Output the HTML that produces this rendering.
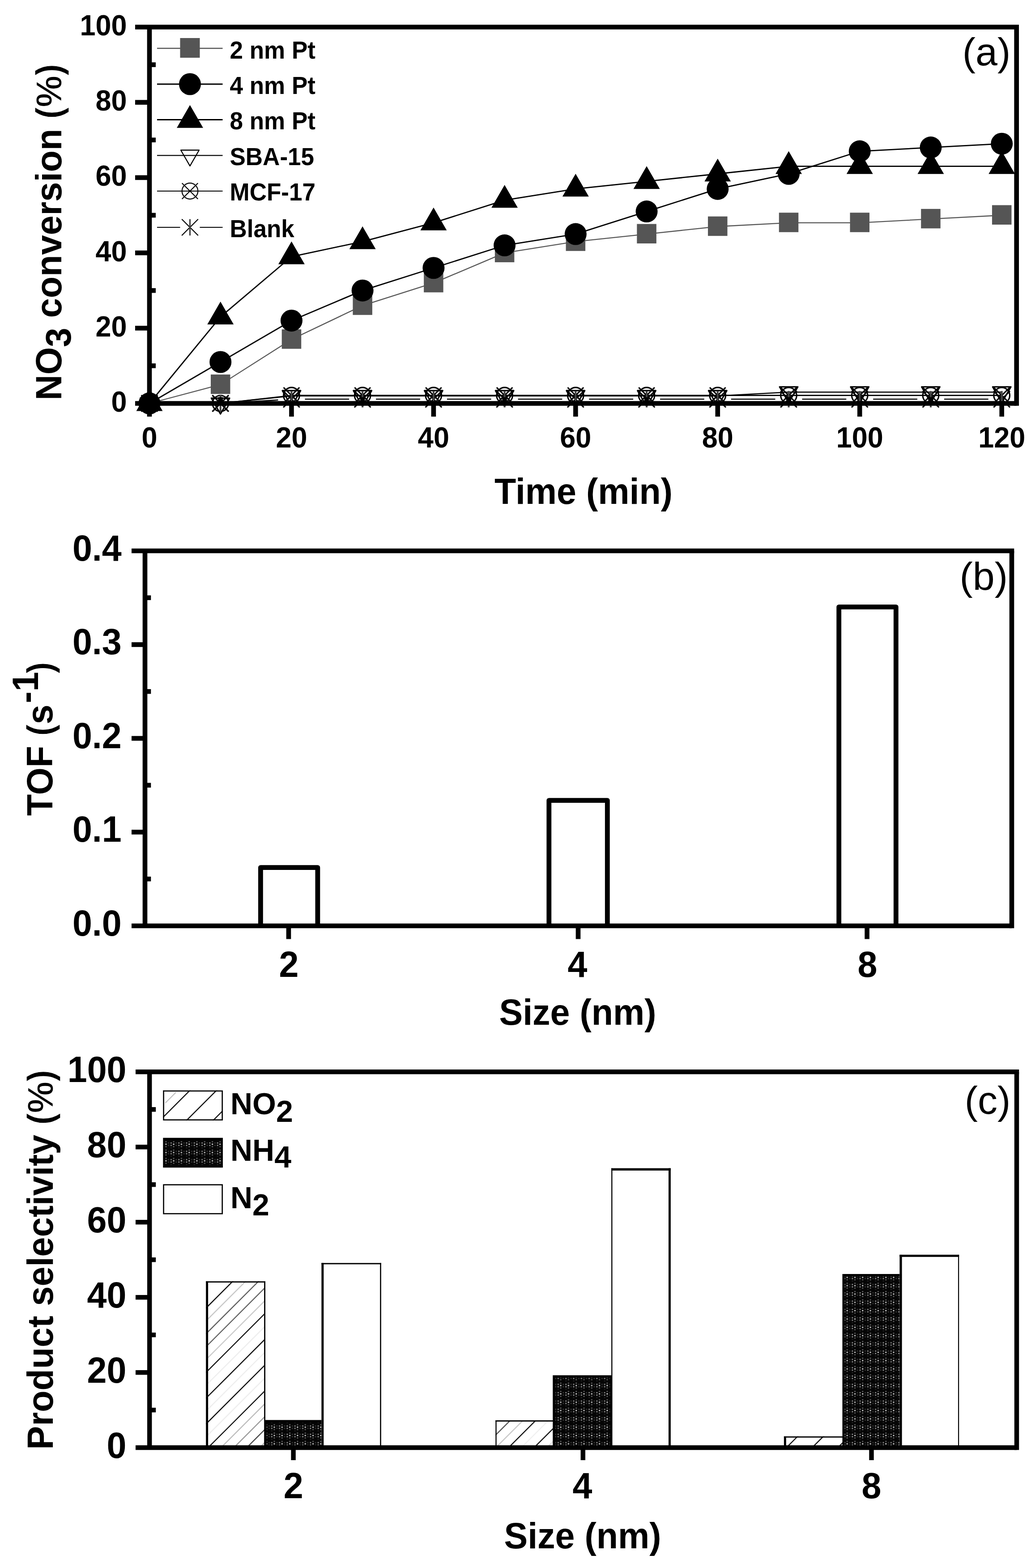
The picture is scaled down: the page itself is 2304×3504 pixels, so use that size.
<!DOCTYPE html>
<html lang="en">
<head>
<meta charset="utf-8">
<title>Figure: nitrate conversion, TOF and product selectivity</title>
<style>
html,body{margin:0;padding:0;background:#fff;}
body{width:2304px;height:3504px;overflow:hidden;}
svg{display:block;}
text{fill:#000;}
</style>
</head>
<body>
<svg width="2304" height="3504" viewBox="0 0 2304 3504">
<rect width="2304" height="3504" fill="#fff"/>
<defs>
<pattern id="dots" width="17.3" height="18.6" patternUnits="userSpaceOnUse"><rect width="17.3" height="18.6" fill="#050505"/><rect x="0.5" y="4.7" width="2.7" height="2.7" fill="#999"/><rect x="0.5" y="10.1" width="2.7" height="2.7" fill="#999"/><rect x="0.5" y="15.5" width="2.7" height="2.7" fill="#222"/><rect x="6.2" y="2" width="2.7" height="2.7" fill="#666"/><rect x="6.2" y="7.4" width="2.7" height="2.7" fill="#f0f0f0"/><rect x="6.2" y="12.8" width="2.7" height="2.7" fill="#666"/><rect x="12" y="4.7" width="2.7" height="2.7" fill="#3a3a3a"/><rect x="12" y="10.1" width="2.7" height="2.7" fill="#3a3a3a"/></pattern>
</defs>
<g id="panel-a">
<polyline points="334.00,901.50 492.73,859.45 651.45,758.53 810.17,682.84 968.90,632.38 1127.62,565.10 1286.35,539.87 1445.08,523.05 1603.80,506.23 1762.52,497.82 1921.25,497.82 2079.97,489.41 2238.70,481.00" fill="none" stroke="#555555" stroke-width="2.3" stroke-linejoin="round"/>
<rect x="470.98" y="836.90" width="43.50" height="43.50" fill="#555555" stroke="none" stroke-width="0" />
<rect x="629.70" y="735.98" width="43.50" height="43.50" fill="#555555" stroke="none" stroke-width="0" />
<rect x="788.42" y="660.29" width="43.50" height="43.50" fill="#555555" stroke="none" stroke-width="0" />
<rect x="947.15" y="609.83" width="43.50" height="43.50" fill="#555555" stroke="none" stroke-width="0" />
<rect x="1105.88" y="542.55" width="43.50" height="43.50" fill="#555555" stroke="none" stroke-width="0" />
<rect x="1264.60" y="517.32" width="43.50" height="43.50" fill="#555555" stroke="none" stroke-width="0" />
<rect x="1423.33" y="500.50" width="43.50" height="43.50" fill="#555555" stroke="none" stroke-width="0" />
<rect x="1582.05" y="483.68" width="43.50" height="43.50" fill="#555555" stroke="none" stroke-width="0" />
<rect x="1740.77" y="475.27" width="43.50" height="43.50" fill="#555555" stroke="none" stroke-width="0" />
<rect x="1899.50" y="475.27" width="43.50" height="43.50" fill="#555555" stroke="none" stroke-width="0" />
<rect x="2058.22" y="466.86" width="43.50" height="43.50" fill="#555555" stroke="none" stroke-width="0" />
<rect x="2216.95" y="458.45" width="43.50" height="43.50" fill="#555555" stroke="none" stroke-width="0" />
<polyline points="334.00,901.50 492.73,808.99 651.45,716.48 810.17,649.20 968.90,598.74 1127.62,548.28 1286.35,523.05 1445.08,472.59 1603.80,422.13 1762.52,388.49 1921.25,338.03 2079.97,329.62 2238.70,321.21" fill="none" stroke="#000" stroke-width="2.8" stroke-linejoin="round"/>
<circle cx="334.00" cy="901.50" r="24.5" fill="#000"/>
<circle cx="492.73" cy="808.99" r="24.5" fill="#000"/>
<circle cx="651.45" cy="716.48" r="24.5" fill="#000"/>
<circle cx="810.17" cy="649.20" r="24.5" fill="#000"/>
<circle cx="968.90" cy="598.74" r="24.5" fill="#000"/>
<circle cx="1127.62" cy="548.28" r="24.5" fill="#000"/>
<circle cx="1286.35" cy="523.05" r="24.5" fill="#000"/>
<circle cx="1445.08" cy="472.59" r="24.5" fill="#000"/>
<circle cx="1603.80" cy="422.13" r="24.5" fill="#000"/>
<circle cx="1762.52" cy="388.49" r="24.5" fill="#000"/>
<circle cx="1921.25" cy="338.03" r="24.5" fill="#000"/>
<circle cx="2079.97" cy="329.62" r="24.5" fill="#000"/>
<circle cx="2238.70" cy="321.21" r="24.5" fill="#000"/>
<polyline points="334.00,901.50 492.73,708.07 651.45,573.51 810.17,539.87 968.90,497.82 1127.62,447.36 1286.35,422.13 1445.08,405.31 1603.80,388.49 1762.52,371.67 1921.25,371.67 2079.97,371.67 2238.70,371.67" fill="none" stroke="#000" stroke-width="2.8" stroke-linejoin="round"/>
<polygon points="334.00,867.50 363.44,918.50 304.56,918.50" fill="#000"/>
<polygon points="492.73,674.07 522.17,725.07 463.28,725.07" fill="#000"/>
<polygon points="651.45,539.51 680.89,590.51 622.01,590.51" fill="#000"/>
<polygon points="810.17,505.87 839.62,556.87 780.73,556.87" fill="#000"/>
<polygon points="968.90,463.82 998.34,514.82 939.46,514.82" fill="#000"/>
<polygon points="1127.62,413.36 1157.07,464.36 1098.18,464.36" fill="#000"/>
<polygon points="1286.35,388.13 1315.79,439.13 1256.91,439.13" fill="#000"/>
<polygon points="1445.08,371.31 1474.52,422.31 1415.63,422.31" fill="#000"/>
<polygon points="1603.80,354.49 1633.24,405.49 1574.36,405.49" fill="#000"/>
<polygon points="1762.52,337.67 1791.97,388.67 1733.08,388.67" fill="#000"/>
<polygon points="1921.25,337.67 1950.69,388.67 1891.81,388.67" fill="#000"/>
<polygon points="2079.97,337.67 2109.42,388.67 2050.53,388.67" fill="#000"/>
<polygon points="2238.70,337.67 2268.14,388.67 2209.26,388.67" fill="#000"/>
<polyline points="334.00,901.50 492.73,901.50 651.45,884.68 810.17,884.68 968.90,884.68 1127.62,884.68 1286.35,884.68 1445.08,884.68 1603.80,884.68 1762.52,876.27 1921.25,876.27 2079.97,876.27 2238.70,876.27" fill="none" stroke="#000" stroke-width="2.6" stroke-linejoin="round"/>
<polygon points="313.56,889.70 354.44,889.70 334.00,925.10" fill="none" stroke="#000" stroke-width="3.1" stroke-linejoin="round"/>
<polygon points="472.29,889.70 513.16,889.70 492.73,925.10" fill="none" stroke="#000" stroke-width="3.1" stroke-linejoin="round"/>
<polygon points="631.01,872.88 671.89,872.88 651.45,908.28" fill="none" stroke="#000" stroke-width="3.1" stroke-linejoin="round"/>
<polygon points="789.74,872.88 830.61,872.88 810.17,908.28" fill="none" stroke="#000" stroke-width="3.1" stroke-linejoin="round"/>
<polygon points="948.46,872.88 989.34,872.88 968.90,908.28" fill="none" stroke="#000" stroke-width="3.1" stroke-linejoin="round"/>
<polygon points="1107.19,872.88 1148.06,872.88 1127.62,908.28" fill="none" stroke="#000" stroke-width="3.1" stroke-linejoin="round"/>
<polygon points="1265.91,872.88 1306.79,872.88 1286.35,908.28" fill="none" stroke="#000" stroke-width="3.1" stroke-linejoin="round"/>
<polygon points="1424.64,872.88 1465.51,872.88 1445.08,908.28" fill="none" stroke="#000" stroke-width="3.1" stroke-linejoin="round"/>
<polygon points="1583.36,872.88 1624.24,872.88 1603.80,908.28" fill="none" stroke="#000" stroke-width="3.1" stroke-linejoin="round"/>
<polygon points="1742.09,864.47 1782.96,864.47 1762.52,899.87" fill="none" stroke="#000" stroke-width="3.1" stroke-linejoin="round"/>
<polygon points="1900.81,864.47 1941.69,864.47 1921.25,899.87" fill="none" stroke="#000" stroke-width="3.1" stroke-linejoin="round"/>
<polygon points="2059.54,864.47 2100.41,864.47 2079.97,899.87" fill="none" stroke="#000" stroke-width="3.1" stroke-linejoin="round"/>
<polygon points="2218.26,864.47 2259.14,864.47 2238.70,899.87" fill="none" stroke="#000" stroke-width="3.1" stroke-linejoin="round"/>
<polyline points="334.00,901.50 492.73,901.50 651.45,883.67 810.17,883.67 968.90,883.67 1127.62,883.67 1286.35,883.67 1445.08,883.67 1603.80,883.67 1762.52,883.67 1921.25,883.67 2079.97,883.67 2238.70,883.67" fill="none" stroke="#000" stroke-width="2.6" stroke-linejoin="round"/>
<circle cx="334.00" cy="901.50" r="17.8" fill="none" stroke="#000" stroke-width="3.1"/>
<line x1="316.20" y1="883.70" x2="351.80" y2="919.30" stroke="#000" stroke-width="3.1" />
<line x1="316.20" y1="919.30" x2="351.80" y2="883.70" stroke="#000" stroke-width="3.1" />
<circle cx="492.73" cy="901.50" r="17.8" fill="none" stroke="#000" stroke-width="3.1"/>
<line x1="474.93" y1="883.70" x2="510.53" y2="919.30" stroke="#000" stroke-width="3.1" />
<line x1="474.93" y1="919.30" x2="510.53" y2="883.70" stroke="#000" stroke-width="3.1" />
<circle cx="651.45" cy="883.67" r="17.8" fill="none" stroke="#000" stroke-width="3.1"/>
<line x1="633.65" y1="865.87" x2="669.25" y2="901.47" stroke="#000" stroke-width="3.1" />
<line x1="633.65" y1="901.47" x2="669.25" y2="865.87" stroke="#000" stroke-width="3.1" />
<circle cx="810.17" cy="883.67" r="17.8" fill="none" stroke="#000" stroke-width="3.1"/>
<line x1="792.38" y1="865.87" x2="827.97" y2="901.47" stroke="#000" stroke-width="3.1" />
<line x1="792.38" y1="901.47" x2="827.97" y2="865.87" stroke="#000" stroke-width="3.1" />
<circle cx="968.90" cy="883.67" r="17.8" fill="none" stroke="#000" stroke-width="3.1"/>
<line x1="951.10" y1="865.87" x2="986.70" y2="901.47" stroke="#000" stroke-width="3.1" />
<line x1="951.10" y1="901.47" x2="986.70" y2="865.87" stroke="#000" stroke-width="3.1" />
<circle cx="1127.62" cy="883.67" r="17.8" fill="none" stroke="#000" stroke-width="3.1"/>
<line x1="1109.83" y1="865.87" x2="1145.42" y2="901.47" stroke="#000" stroke-width="3.1" />
<line x1="1109.83" y1="901.47" x2="1145.42" y2="865.87" stroke="#000" stroke-width="3.1" />
<circle cx="1286.35" cy="883.67" r="17.8" fill="none" stroke="#000" stroke-width="3.1"/>
<line x1="1268.55" y1="865.87" x2="1304.15" y2="901.47" stroke="#000" stroke-width="3.1" />
<line x1="1268.55" y1="901.47" x2="1304.15" y2="865.87" stroke="#000" stroke-width="3.1" />
<circle cx="1445.08" cy="883.67" r="17.8" fill="none" stroke="#000" stroke-width="3.1"/>
<line x1="1427.28" y1="865.87" x2="1462.88" y2="901.47" stroke="#000" stroke-width="3.1" />
<line x1="1427.28" y1="901.47" x2="1462.88" y2="865.87" stroke="#000" stroke-width="3.1" />
<circle cx="1603.80" cy="883.67" r="17.8" fill="none" stroke="#000" stroke-width="3.1"/>
<line x1="1586.00" y1="865.87" x2="1621.60" y2="901.47" stroke="#000" stroke-width="3.1" />
<line x1="1586.00" y1="901.47" x2="1621.60" y2="865.87" stroke="#000" stroke-width="3.1" />
<circle cx="1762.52" cy="883.67" r="17.8" fill="none" stroke="#000" stroke-width="3.1"/>
<line x1="1744.72" y1="865.87" x2="1780.32" y2="901.47" stroke="#000" stroke-width="3.1" />
<line x1="1744.72" y1="901.47" x2="1780.32" y2="865.87" stroke="#000" stroke-width="3.1" />
<circle cx="1921.25" cy="883.67" r="17.8" fill="none" stroke="#000" stroke-width="3.1"/>
<line x1="1903.45" y1="865.87" x2="1939.05" y2="901.47" stroke="#000" stroke-width="3.1" />
<line x1="1903.45" y1="901.47" x2="1939.05" y2="865.87" stroke="#000" stroke-width="3.1" />
<circle cx="2079.97" cy="883.67" r="17.8" fill="none" stroke="#000" stroke-width="3.1"/>
<line x1="2062.17" y1="865.87" x2="2097.77" y2="901.47" stroke="#000" stroke-width="3.1" />
<line x1="2062.17" y1="901.47" x2="2097.77" y2="865.87" stroke="#000" stroke-width="3.1" />
<circle cx="2238.70" cy="883.67" r="17.8" fill="none" stroke="#000" stroke-width="3.1"/>
<line x1="2220.90" y1="865.87" x2="2256.50" y2="901.47" stroke="#000" stroke-width="3.1" />
<line x1="2220.90" y1="901.47" x2="2256.50" y2="865.87" stroke="#000" stroke-width="3.1" />
<line x1="364.00" y1="901.50" x2="462.73" y2="901.50" stroke="#000" stroke-width="2.5" />
<line x1="522.67" y1="899.72" x2="621.50" y2="893.86" stroke="#000" stroke-width="2.5" />
<line x1="681.45" y1="892.08" x2="780.17" y2="892.08" stroke="#000" stroke-width="2.5" />
<line x1="840.17" y1="892.08" x2="938.90" y2="892.08" stroke="#000" stroke-width="2.5" />
<line x1="998.90" y1="892.08" x2="1097.62" y2="892.08" stroke="#000" stroke-width="2.5" />
<line x1="1157.62" y1="892.08" x2="1256.35" y2="892.08" stroke="#000" stroke-width="2.5" />
<line x1="1316.35" y1="892.08" x2="1415.08" y2="892.08" stroke="#000" stroke-width="2.5" />
<line x1="1475.08" y1="892.08" x2="1573.80" y2="892.08" stroke="#000" stroke-width="2.5" />
<line x1="1633.80" y1="892.08" x2="1732.52" y2="892.08" stroke="#000" stroke-width="2.5" />
<line x1="1792.52" y1="892.08" x2="1891.25" y2="892.08" stroke="#000" stroke-width="2.5" />
<line x1="1951.25" y1="892.08" x2="2049.97" y2="892.08" stroke="#000" stroke-width="2.5" />
<line x1="2109.97" y1="892.08" x2="2208.70" y2="892.08" stroke="#000" stroke-width="2.5" />
<line x1="315.70" y1="883.20" x2="352.30" y2="919.80" stroke="#000" stroke-width="3.1" />
<line x1="315.70" y1="919.80" x2="352.30" y2="883.20" stroke="#000" stroke-width="3.1" />
<line x1="334.00" y1="883.20" x2="334.00" y2="919.80" stroke="#444" stroke-width="4.1" />
<line x1="474.43" y1="883.20" x2="511.03" y2="919.80" stroke="#000" stroke-width="3.1" />
<line x1="474.43" y1="919.80" x2="511.03" y2="883.20" stroke="#000" stroke-width="3.1" />
<line x1="492.73" y1="883.20" x2="492.73" y2="919.80" stroke="#444" stroke-width="4.1" />
<line x1="633.15" y1="873.78" x2="669.75" y2="910.38" stroke="#000" stroke-width="3.1" />
<line x1="633.15" y1="910.38" x2="669.75" y2="873.78" stroke="#000" stroke-width="3.1" />
<line x1="651.45" y1="873.78" x2="651.45" y2="910.38" stroke="#444" stroke-width="4.1" />
<line x1="791.88" y1="873.78" x2="828.47" y2="910.38" stroke="#000" stroke-width="3.1" />
<line x1="791.88" y1="910.38" x2="828.47" y2="873.78" stroke="#000" stroke-width="3.1" />
<line x1="810.17" y1="873.78" x2="810.17" y2="910.38" stroke="#444" stroke-width="4.1" />
<line x1="950.60" y1="873.78" x2="987.20" y2="910.38" stroke="#000" stroke-width="3.1" />
<line x1="950.60" y1="910.38" x2="987.20" y2="873.78" stroke="#000" stroke-width="3.1" />
<line x1="968.90" y1="873.78" x2="968.90" y2="910.38" stroke="#444" stroke-width="4.1" />
<line x1="1109.33" y1="873.78" x2="1145.92" y2="910.38" stroke="#000" stroke-width="3.1" />
<line x1="1109.33" y1="910.38" x2="1145.92" y2="873.78" stroke="#000" stroke-width="3.1" />
<line x1="1127.62" y1="873.78" x2="1127.62" y2="910.38" stroke="#444" stroke-width="4.1" />
<line x1="1268.05" y1="873.78" x2="1304.65" y2="910.38" stroke="#000" stroke-width="3.1" />
<line x1="1268.05" y1="910.38" x2="1304.65" y2="873.78" stroke="#000" stroke-width="3.1" />
<line x1="1286.35" y1="873.78" x2="1286.35" y2="910.38" stroke="#444" stroke-width="4.1" />
<line x1="1426.78" y1="873.78" x2="1463.38" y2="910.38" stroke="#000" stroke-width="3.1" />
<line x1="1426.78" y1="910.38" x2="1463.38" y2="873.78" stroke="#000" stroke-width="3.1" />
<line x1="1445.08" y1="873.78" x2="1445.08" y2="910.38" stroke="#444" stroke-width="4.1" />
<line x1="1585.50" y1="873.78" x2="1622.10" y2="910.38" stroke="#000" stroke-width="3.1" />
<line x1="1585.50" y1="910.38" x2="1622.10" y2="873.78" stroke="#000" stroke-width="3.1" />
<line x1="1603.80" y1="873.78" x2="1603.80" y2="910.38" stroke="#444" stroke-width="4.1" />
<line x1="1744.22" y1="873.78" x2="1780.82" y2="910.38" stroke="#000" stroke-width="3.1" />
<line x1="1744.22" y1="910.38" x2="1780.82" y2="873.78" stroke="#000" stroke-width="3.1" />
<line x1="1762.52" y1="873.78" x2="1762.52" y2="910.38" stroke="#444" stroke-width="4.1" />
<line x1="1902.95" y1="873.78" x2="1939.55" y2="910.38" stroke="#000" stroke-width="3.1" />
<line x1="1902.95" y1="910.38" x2="1939.55" y2="873.78" stroke="#000" stroke-width="3.1" />
<line x1="1921.25" y1="873.78" x2="1921.25" y2="910.38" stroke="#444" stroke-width="4.1" />
<line x1="2061.67" y1="873.78" x2="2098.27" y2="910.38" stroke="#000" stroke-width="3.1" />
<line x1="2061.67" y1="910.38" x2="2098.27" y2="873.78" stroke="#000" stroke-width="3.1" />
<line x1="2079.97" y1="873.78" x2="2079.97" y2="910.38" stroke="#444" stroke-width="4.1" />
<line x1="2220.40" y1="873.78" x2="2257.00" y2="910.38" stroke="#000" stroke-width="3.1" />
<line x1="2220.40" y1="910.38" x2="2257.00" y2="873.78" stroke="#000" stroke-width="3.1" />
<line x1="2238.70" y1="873.78" x2="2238.70" y2="910.38" stroke="#444" stroke-width="4.1" />
<line x1="302.00" y1="60.50" x2="2277.00" y2="60.50" stroke="#000" stroke-width="10.6" />
<line x1="2271.70" y1="60.50" x2="2271.70" y2="906.80" stroke="#000" stroke-width="10.6" />
<line x1="302.00" y1="901.50" x2="2271.70" y2="901.50" stroke="#000" stroke-width="10.6" />
<line x1="334.00" y1="60.50" x2="334.00" y2="901.50" stroke="#000" stroke-width="10.6" />
<line x1="302.00" y1="733.30" x2="334.00" y2="733.30" stroke="#000" stroke-width="10.6" />
<line x1="302.00" y1="565.10" x2="334.00" y2="565.10" stroke="#000" stroke-width="10.6" />
<line x1="302.00" y1="396.90" x2="334.00" y2="396.90" stroke="#000" stroke-width="10.6" />
<line x1="302.00" y1="228.70" x2="334.00" y2="228.70" stroke="#000" stroke-width="10.6" />
<line x1="334.00" y1="817.40" x2="348.00" y2="817.40" stroke="#000" stroke-width="10.6" />
<line x1="334.00" y1="649.20" x2="348.00" y2="649.20" stroke="#000" stroke-width="10.6" />
<line x1="334.00" y1="481.00" x2="348.00" y2="481.00" stroke="#000" stroke-width="10.6" />
<line x1="334.00" y1="312.80" x2="348.00" y2="312.80" stroke="#000" stroke-width="10.6" />
<line x1="334.00" y1="144.60" x2="348.00" y2="144.60" stroke="#000" stroke-width="10.6" />
<line x1="334.00" y1="901.50" x2="334.00" y2="931.00" stroke="#000" stroke-width="10.6" />
<line x1="651.45" y1="901.50" x2="651.45" y2="931.00" stroke="#000" stroke-width="10.6" />
<line x1="968.90" y1="901.50" x2="968.90" y2="931.00" stroke="#000" stroke-width="10.6" />
<line x1="1286.35" y1="901.50" x2="1286.35" y2="931.00" stroke="#000" stroke-width="10.6" />
<line x1="1603.80" y1="901.50" x2="1603.80" y2="931.00" stroke="#000" stroke-width="10.6" />
<line x1="1921.25" y1="901.50" x2="1921.25" y2="931.00" stroke="#000" stroke-width="10.6" />
<line x1="2238.70" y1="901.50" x2="2238.70" y2="931.00" stroke="#000" stroke-width="10.6" />
<line x1="492.73" y1="887.50" x2="492.73" y2="901.50" stroke="#000" stroke-width="10.6" />
<line x1="810.17" y1="887.50" x2="810.17" y2="901.50" stroke="#000" stroke-width="10.6" />
<line x1="1127.62" y1="887.50" x2="1127.62" y2="901.50" stroke="#000" stroke-width="10.6" />
<line x1="1445.08" y1="887.50" x2="1445.08" y2="901.50" stroke="#000" stroke-width="10.6" />
<line x1="1762.52" y1="887.50" x2="1762.52" y2="901.50" stroke="#000" stroke-width="10.6" />
<line x1="2079.97" y1="887.50" x2="2079.97" y2="901.50" stroke="#000" stroke-width="10.6" />
<text transform="translate(283.50 919.90) scale(1 1.035)" font-family="'Liberation Sans', sans-serif" font-weight="700" font-size="63" text-anchor="end" >0</text>
<text transform="translate(283.50 751.70) scale(1 1.035)" font-family="'Liberation Sans', sans-serif" font-weight="700" font-size="63" text-anchor="end" >20</text>
<text transform="translate(283.50 583.50) scale(1 1.035)" font-family="'Liberation Sans', sans-serif" font-weight="700" font-size="63" text-anchor="end" >40</text>
<text transform="translate(283.50 415.30) scale(1 1.035)" font-family="'Liberation Sans', sans-serif" font-weight="700" font-size="63" text-anchor="end" >60</text>
<text transform="translate(283.50 247.10) scale(1 1.035)" font-family="'Liberation Sans', sans-serif" font-weight="700" font-size="63" text-anchor="end" >80</text>
<text transform="translate(283.50 78.90) scale(1 1.035)" font-family="'Liberation Sans', sans-serif" font-weight="700" font-size="63" text-anchor="end" >100</text>
<text transform="translate(334.00 999.60) scale(1 1.035)" font-family="'Liberation Sans', sans-serif" font-weight="700" font-size="63" text-anchor="middle" >0</text>
<text transform="translate(651.45 999.60) scale(1 1.035)" font-family="'Liberation Sans', sans-serif" font-weight="700" font-size="63" text-anchor="middle" >20</text>
<text transform="translate(968.90 999.60) scale(1 1.035)" font-family="'Liberation Sans', sans-serif" font-weight="700" font-size="63" text-anchor="middle" >40</text>
<text transform="translate(1286.35 999.60) scale(1 1.035)" font-family="'Liberation Sans', sans-serif" font-weight="700" font-size="63" text-anchor="middle" >60</text>
<text transform="translate(1603.80 999.60) scale(1 1.035)" font-family="'Liberation Sans', sans-serif" font-weight="700" font-size="63" text-anchor="middle" >80</text>
<text transform="translate(1921.25 999.60) scale(1 1.035)" font-family="'Liberation Sans', sans-serif" font-weight="700" font-size="63" text-anchor="middle" >100</text>
<text transform="translate(2238.70 999.60) scale(1 1.035)" font-family="'Liberation Sans', sans-serif" font-weight="700" font-size="63" text-anchor="middle" >120</text>
<text transform="translate(1304.00 1126.20) scale(1 1.04)" font-family="'Liberation Sans', sans-serif" font-weight="700" font-size="79" text-anchor="middle" >Time (min)</text>
<text transform="translate(136.50 894.50) rotate(-90) scale(1 1.025)" font-family="'Liberation Sans', sans-serif" font-weight="700" font-size="79.2" text-anchor="start" >NO<tspan dy="20.5" font-size="78">3</tspan><tspan dy="-20.5"> conversion </tspan><tspan stroke="#fff" stroke-width="1.3">(%)</tspan></text>
<text transform="translate(2204.50 145.50)" font-family="'Liberation Sans', sans-serif" font-weight="400" font-size="88" text-anchor="middle" >(a)</text>
<line x1="351.00" y1="108.00" x2="497.50" y2="108.00" stroke="#555555" stroke-width="2.4" />
<rect x="402.50" y="85.00" width="44.00" height="44.00" fill="#555555" stroke="none" stroke-width="0" />
<line x1="351.00" y1="188.00" x2="497.50" y2="188.00" stroke="#000" stroke-width="2.8" />
<circle cx="424.50" cy="188.00" r="24.5" fill="#000"/>
<line x1="351.00" y1="267.50" x2="497.50" y2="267.50" stroke="#000" stroke-width="2.8" />
<polygon points="424.50,234.70 453.94,285.70 395.06,285.70" fill="#000"/>
<line x1="351.00" y1="347.30" x2="497.50" y2="347.30" stroke="#000" stroke-width="2.2" />
<polygon points="404.06,335.50 444.94,335.50 424.50,370.90" fill="none" stroke="#000" stroke-width="2.3" stroke-linejoin="round"/>
<line x1="351.00" y1="427.00" x2="497.50" y2="427.00" stroke="#000" stroke-width="2.2" />
<circle cx="424.50" cy="427.00" r="17.8" fill="none" stroke="#000" stroke-width="2.2"/>
<line x1="406.70" y1="409.20" x2="442.30" y2="444.80" stroke="#000" stroke-width="2.2" />
<line x1="406.70" y1="444.80" x2="442.30" y2="409.20" stroke="#000" stroke-width="2.2" />
<line x1="351.00" y1="508.00" x2="402.50" y2="508.00" stroke="#000" stroke-width="2.2" />
<line x1="446.50" y1="508.00" x2="497.50" y2="508.00" stroke="#000" stroke-width="2.2" />
<line x1="406.20" y1="489.70" x2="442.80" y2="526.30" stroke="#000" stroke-width="2.2" />
<line x1="406.20" y1="526.30" x2="442.80" y2="489.70" stroke="#000" stroke-width="2.2" />
<line x1="424.50" y1="489.70" x2="424.50" y2="526.30" stroke="#444" stroke-width="3.2" />
<text transform="translate(513.50 130.50) scale(1 1.04)" font-family="'Liberation Sans', sans-serif" font-weight="700" font-size="53" text-anchor="start" >2 nm Pt</text>
<text transform="translate(513.50 209.80) scale(1 1.04)" font-family="'Liberation Sans', sans-serif" font-weight="700" font-size="53" text-anchor="start" >4 nm Pt</text>
<text transform="translate(513.50 289.00) scale(1 1.04)" font-family="'Liberation Sans', sans-serif" font-weight="700" font-size="53" text-anchor="start" >8 nm Pt</text>
<text transform="translate(513.50 368.80) scale(1 1.04)" font-family="'Liberation Sans', sans-serif" font-weight="700" font-size="53" text-anchor="start" >SBA-15</text>
<text transform="translate(513.50 448.00) scale(1 1.04)" font-family="'Liberation Sans', sans-serif" font-weight="700" font-size="53" text-anchor="start" >MCF-17</text>
<text transform="translate(513.50 529.50) scale(1 1.04)" font-family="'Liberation Sans', sans-serif" font-weight="700" font-size="53" text-anchor="start" >Blank</text>
</g>
<g id="panel-b">
<path d="M582.40 2069.00 V1938.69 H709.90 V2069.00" fill="#fff" stroke="#000" stroke-width="10.8" stroke-linejoin="round"/>
<path d="M1226.80 2069.00 V1788.69 H1357.30 V2069.00" fill="#fff" stroke="#000" stroke-width="10.8" stroke-linejoin="round"/>
<path d="M1874.70 2069.00 V1356.28 H2002.30 V2069.00" fill="#fff" stroke="#000" stroke-width="10.8" stroke-linejoin="round"/>
<line x1="294.00" y1="1231.00" x2="2266.30" y2="1231.00" stroke="#000" stroke-width="10.6" />
<line x1="2261.00" y1="1231.00" x2="2261.00" y2="2074.30" stroke="#000" stroke-width="10.6" />
<line x1="294.00" y1="2069.00" x2="2261.00" y2="2069.00" stroke="#000" stroke-width="10.6" />
<line x1="324.00" y1="1231.00" x2="324.00" y2="2069.00" stroke="#000" stroke-width="10.6" />
<line x1="294.00" y1="1859.50" x2="324.00" y2="1859.50" stroke="#000" stroke-width="10.6" />
<line x1="294.00" y1="1650.00" x2="324.00" y2="1650.00" stroke="#000" stroke-width="10.6" />
<line x1="294.00" y1="1440.50" x2="324.00" y2="1440.50" stroke="#000" stroke-width="10.6" />
<line x1="324.00" y1="1964.25" x2="337.30" y2="1964.25" stroke="#000" stroke-width="10.6" />
<line x1="324.00" y1="1754.75" x2="337.30" y2="1754.75" stroke="#000" stroke-width="10.6" />
<line x1="324.00" y1="1545.25" x2="337.30" y2="1545.25" stroke="#000" stroke-width="10.6" />
<line x1="324.00" y1="1335.75" x2="337.30" y2="1335.75" stroke="#000" stroke-width="10.6" />
<line x1="645.00" y1="2069.00" x2="645.00" y2="2098.50" stroke="#000" stroke-width="10.6" />
<line x1="1292.00" y1="2069.00" x2="1292.00" y2="2098.50" stroke="#000" stroke-width="10.6" />
<line x1="1937.60" y1="2069.00" x2="1937.60" y2="2098.50" stroke="#000" stroke-width="10.6" />
<text transform="translate(271.70 2090.60) scale(1 1.03)" font-family="'Liberation Sans', sans-serif" font-weight="700" font-size="79" text-anchor="end" >0.0</text>
<text transform="translate(271.70 1881.10) scale(1 1.03)" font-family="'Liberation Sans', sans-serif" font-weight="700" font-size="79" text-anchor="end" >0.1</text>
<text transform="translate(271.70 1671.60) scale(1 1.03)" font-family="'Liberation Sans', sans-serif" font-weight="700" font-size="79" text-anchor="end" >0.2</text>
<text transform="translate(271.70 1462.10) scale(1 1.03)" font-family="'Liberation Sans', sans-serif" font-weight="700" font-size="79" text-anchor="end" >0.3</text>
<text transform="translate(271.70 1252.60) scale(1 1.03)" font-family="'Liberation Sans', sans-serif" font-weight="700" font-size="79" text-anchor="end" >0.4</text>
<text transform="translate(645.50 2183.00) scale(1 1.03)" font-family="'Liberation Sans', sans-serif" font-weight="700" font-size="79" text-anchor="middle" >2</text>
<text transform="translate(1290.50 2183.00) scale(1 1.03)" font-family="'Liberation Sans', sans-serif" font-weight="700" font-size="79" text-anchor="middle" >4</text>
<text transform="translate(1938.50 2183.00) scale(1 1.03)" font-family="'Liberation Sans', sans-serif" font-weight="700" font-size="79" text-anchor="middle" >8</text>
<text transform="translate(1291.00 2289.60) scale(1 1.04)" font-family="'Liberation Sans', sans-serif" font-weight="700" font-size="79" text-anchor="middle" >Size (nm)</text>
<text transform="translate(116.80 1823.20) rotate(-90) scale(1 1.025)" font-family="'Liberation Sans', sans-serif" font-weight="700" font-size="79" text-anchor="start" >TOF <tspan stroke="#fff" stroke-width="1.3">(</tspan>s<tspan dy="-31" dx="3">-</tspan><tspan dx="0">1</tspan><tspan dy="31" dx="-4" stroke="#fff" stroke-width="1.3">)</tspan></text>
<text transform="translate(2198.20 1318.20)" font-family="'Liberation Sans', sans-serif" font-weight="400" font-size="88" text-anchor="middle" >(b)</text>
</g>
<g id="panel-c">
<rect x="460.20" y="2863.30" width="132.80" height="371.70" fill="#fff" stroke="none" stroke-width="0" />
<clipPath id="hc1"><rect x="460.20" y="2863.30" width="132.80" height="371.70"/></clipPath>
<g clip-path="url(#hc1)">
<line x1="460.20" y1="2923.30" x2="593.00" y2="2790.50" stroke="#111" stroke-width="2.4" />
<line x1="460.20" y1="2952.08" x2="593.00" y2="2819.28" stroke="#c8c8c8" stroke-width="2.4" />
<line x1="460.20" y1="2980.86" x2="593.00" y2="2848.06" stroke="#606060" stroke-width="2.4" />
<line x1="460.20" y1="3009.64" x2="593.00" y2="2876.84" stroke="#606060" stroke-width="2.4" />
<line x1="460.20" y1="3038.42" x2="593.00" y2="2905.62" stroke="#c8c8c8" stroke-width="2.4" />
<line x1="460.20" y1="3067.20" x2="593.00" y2="2934.40" stroke="#111" stroke-width="2.4" />
<line x1="460.20" y1="3095.98" x2="593.00" y2="2963.18" stroke="#eee" stroke-width="2.4" />
<line x1="460.20" y1="3124.76" x2="593.00" y2="2991.96" stroke="#111" stroke-width="2.4" />
<line x1="460.20" y1="3153.54" x2="593.00" y2="3020.74" stroke="#eee" stroke-width="2.4" />
<line x1="460.20" y1="3182.32" x2="593.00" y2="3049.52" stroke="#111" stroke-width="2.4" />
<line x1="460.20" y1="3211.10" x2="593.00" y2="3078.30" stroke="#eee" stroke-width="2.4" />
<line x1="460.20" y1="3239.88" x2="593.00" y2="3107.08" stroke="#111" stroke-width="2.4" />
<line x1="460.20" y1="3268.66" x2="593.00" y2="3135.86" stroke="#bbb" stroke-width="2.4" />
<line x1="460.20" y1="3297.44" x2="593.00" y2="3164.64" stroke="#999" stroke-width="2.4" />
<line x1="460.20" y1="3326.22" x2="593.00" y2="3193.42" stroke="#444" stroke-width="2.4" />
<line x1="460.20" y1="3355.00" x2="593.00" y2="3222.20" stroke="#bbb" stroke-width="2.4" />
</g>
<rect x="460.20" y="2863.30" width="4.90" height="371.70" fill="#000" stroke="none" stroke-width="0" />
<rect x="590.20" y="2863.30" width="2.80" height="371.70" fill="#000" stroke="none" stroke-width="0" />
<rect x="460.20" y="2863.30" width="132.80" height="2.80" fill="#000" stroke="none" stroke-width="0" />
<rect x="591.00" y="3173.30" width="132.30" height="61.70" fill="#000" stroke="none" stroke-width="0" />
<rect x="596.00" y="3178.80" width="122.30" height="56.20" fill="url(#dots)" stroke="none" stroke-width="0" />
<rect x="718.40" y="2822.40" width="133.40" height="412.60" fill="#fff" stroke="none" stroke-width="0" />
<rect x="718.40" y="2822.40" width="4.90" height="412.60" fill="#000" stroke="none" stroke-width="0" />
<rect x="849.20" y="2822.40" width="2.60" height="412.60" fill="#000" stroke="none" stroke-width="0" />
<rect x="718.40" y="2822.40" width="133.40" height="2.90" fill="#000" stroke="none" stroke-width="0" />
<rect x="1107.30" y="3173.90" width="129.20" height="61.10" fill="#fff" stroke="none" stroke-width="0" />
<clipPath id="hc2"><rect x="1107.30" y="3173.90" width="129.20" height="61.10"/></clipPath>
<g clip-path="url(#hc2)">
<line x1="1107.30" y1="3207.20" x2="1236.50" y2="3078.00" stroke="#555" stroke-width="2.4" />
<line x1="1107.30" y1="3235.70" x2="1236.50" y2="3106.50" stroke="#c8c8c8" stroke-width="2.4" />
<line x1="1107.30" y1="3264.20" x2="1236.50" y2="3135.00" stroke="#111" stroke-width="2.4" />
<line x1="1107.30" y1="3292.70" x2="1236.50" y2="3163.50" stroke="#f0f0f0" stroke-width="2.4" />
<line x1="1107.30" y1="3321.20" x2="1236.50" y2="3192.00" stroke="#111" stroke-width="2.4" />
<line x1="1107.30" y1="3349.70" x2="1236.50" y2="3220.50" stroke="#ddd" stroke-width="2.4" />
</g>
<rect x="1107.30" y="3173.90" width="2.40" height="61.10" fill="#000" stroke="none" stroke-width="0" />
<rect x="1107.30" y="3173.90" width="129.20" height="2.90" fill="#000" stroke="none" stroke-width="0" />
<rect x="1235.30" y="3073.30" width="133.10" height="161.70" fill="#000" stroke="none" stroke-width="0" />
<rect x="1240.30" y="3078.80" width="123.10" height="156.20" fill="url(#dots)" stroke="none" stroke-width="0" />
<rect x="1366.10" y="2610.60" width="132.80" height="624.40" fill="#fff" stroke="none" stroke-width="0" />
<rect x="1366.10" y="2610.60" width="2.40" height="624.40" fill="#000" stroke="none" stroke-width="0" />
<rect x="1494.00" y="2610.60" width="4.90" height="624.40" fill="#000" stroke="none" stroke-width="0" />
<rect x="1366.10" y="2610.60" width="132.80" height="5.20" fill="#000" stroke="none" stroke-width="0" />
<rect x="1751.90" y="3209.80" width="131.60" height="25.20" fill="#fff" stroke="none" stroke-width="0" />
<clipPath id="hc3"><rect x="1751.90" y="3209.80" width="131.60" height="25.20"/></clipPath>
<g clip-path="url(#hc3)">
<line x1="1751.90" y1="3240.50" x2="1883.50" y2="3108.90" stroke="#111" stroke-width="2.4" />
<line x1="1751.90" y1="3298.00" x2="1883.50" y2="3166.40" stroke="#111" stroke-width="2.4" />
<line x1="1751.90" y1="3355.50" x2="1883.50" y2="3223.90" stroke="#111" stroke-width="2.4" />
</g>
<rect x="1751.90" y="3209.80" width="4.90" height="25.20" fill="#000" stroke="none" stroke-width="0" />
<rect x="1751.90" y="3209.80" width="131.60" height="2.80" fill="#000" stroke="none" stroke-width="0" />
<rect x="1882.50" y="2847.00" width="133.10" height="388.00" fill="#000" stroke="none" stroke-width="0" />
<rect x="1887.50" y="2852.50" width="123.10" height="382.50" fill="url(#dots)" stroke="none" stroke-width="0" />
<rect x="2010.40" y="2803.90" width="132.80" height="431.10" fill="#fff" stroke="none" stroke-width="0" />
<rect x="2010.40" y="2803.90" width="5.20" height="431.10" fill="#000" stroke="none" stroke-width="0" />
<rect x="2141.00" y="2803.90" width="2.20" height="431.10" fill="#000" stroke="none" stroke-width="0" />
<rect x="2010.40" y="2803.90" width="132.80" height="4.90" fill="#000" stroke="none" stroke-width="0" />
<line x1="303.00" y1="2395.30" x2="2277.20" y2="2395.30" stroke="#000" stroke-width="10.4" />
<line x1="2272.00" y1="2395.30" x2="2272.00" y2="3240.20" stroke="#000" stroke-width="10.4" />
<line x1="303.00" y1="3235.00" x2="2272.00" y2="3235.00" stroke="#000" stroke-width="10.4" />
<line x1="334.20" y1="2395.30" x2="334.20" y2="3235.00" stroke="#000" stroke-width="10.4" />
<line x1="303.00" y1="3067.06" x2="334.20" y2="3067.06" stroke="#000" stroke-width="10.4" />
<line x1="303.00" y1="2899.12" x2="334.20" y2="2899.12" stroke="#000" stroke-width="10.4" />
<line x1="303.00" y1="2731.18" x2="334.20" y2="2731.18" stroke="#000" stroke-width="10.4" />
<line x1="303.00" y1="2563.24" x2="334.20" y2="2563.24" stroke="#000" stroke-width="10.4" />
<line x1="334.20" y1="3151.03" x2="348.20" y2="3151.03" stroke="#000" stroke-width="10.4" />
<line x1="334.20" y1="2983.09" x2="348.20" y2="2983.09" stroke="#000" stroke-width="10.4" />
<line x1="334.20" y1="2815.15" x2="348.20" y2="2815.15" stroke="#000" stroke-width="10.4" />
<line x1="334.20" y1="2647.21" x2="348.20" y2="2647.21" stroke="#000" stroke-width="10.4" />
<line x1="334.20" y1="2479.27" x2="348.20" y2="2479.27" stroke="#000" stroke-width="10.4" />
<line x1="655.60" y1="3235.00" x2="655.60" y2="3263.00" stroke="#000" stroke-width="10.4" />
<line x1="1302.80" y1="3235.00" x2="1302.80" y2="3263.00" stroke="#000" stroke-width="10.4" />
<line x1="1947.50" y1="3235.00" x2="1947.50" y2="3263.00" stroke="#000" stroke-width="10.4" />
<text transform="translate(282.50 3257.50) scale(1 1.03)" font-family="'Liberation Sans', sans-serif" font-weight="700" font-size="79" text-anchor="end" >0</text>
<text transform="translate(282.50 3089.56) scale(1 1.03)" font-family="'Liberation Sans', sans-serif" font-weight="700" font-size="79" text-anchor="end" >20</text>
<text transform="translate(282.50 2921.62) scale(1 1.03)" font-family="'Liberation Sans', sans-serif" font-weight="700" font-size="79" text-anchor="end" >40</text>
<text transform="translate(282.50 2753.68) scale(1 1.03)" font-family="'Liberation Sans', sans-serif" font-weight="700" font-size="79" text-anchor="end" >60</text>
<text transform="translate(282.50 2585.74) scale(1 1.03)" font-family="'Liberation Sans', sans-serif" font-weight="700" font-size="79" text-anchor="end" >80</text>
<text transform="translate(282.50 2417.80) scale(1 1.03)" font-family="'Liberation Sans', sans-serif" font-weight="700" font-size="79" text-anchor="end" >100</text>
<text transform="translate(655.60 3348.30) scale(1 1.03)" font-family="'Liberation Sans', sans-serif" font-weight="700" font-size="79" text-anchor="middle" >2</text>
<text transform="translate(1301.50 3348.30) scale(1 1.03)" font-family="'Liberation Sans', sans-serif" font-weight="700" font-size="79" text-anchor="middle" >4</text>
<text transform="translate(1947.50 3348.30) scale(1 1.03)" font-family="'Liberation Sans', sans-serif" font-weight="700" font-size="79" text-anchor="middle" >8</text>
<text transform="translate(1302.00 3459.60) scale(1 1.04)" font-family="'Liberation Sans', sans-serif" font-weight="700" font-size="79" text-anchor="middle" >Size (nm)</text>
<text transform="translate(117.60 3239.40) rotate(-90) scale(1 1.025)" font-family="'Liberation Sans', sans-serif" font-weight="700" font-size="79.16" text-anchor="start" >Product selectivity <tspan stroke="#fff" stroke-width="1.3">(%)</tspan></text>
<text transform="translate(2207.00 2489.20)" font-family="'Liberation Sans', sans-serif" font-weight="400" font-size="88" text-anchor="middle" >(c)</text>
<rect x="364.30" y="2436.70" width="133.70" height="67.20" fill="#fff" stroke="none" stroke-width="0" />
<clipPath id="hc4"><rect x="364.30" y="2436.70" width="133.70" height="67.20"/></clipPath>
<g clip-path="url(#hc4)">
<line x1="364.30" y1="2437.30" x2="498.00" y2="2303.60" stroke="#111" stroke-width="2.4" />
<line x1="364.30" y1="2496.80" x2="498.00" y2="2363.10" stroke="#111" stroke-width="2.4" />
<line x1="364.30" y1="2556.30" x2="498.00" y2="2422.60" stroke="#111" stroke-width="2.4" />
<line x1="364.30" y1="2615.80" x2="498.00" y2="2482.10" stroke="#111" stroke-width="2.4" />
</g>
<line x1="369.50" y1="2464.80" x2="393.00" y2="2441.30" stroke="#bbb" stroke-width="2" />
<rect x="365.60" y="2438.00" width="131.10" height="64.60" fill="none" stroke="#000" stroke-width="2.6" />
<rect x="364.30" y="2542.70" width="133.70" height="66.50" fill="#000" stroke="none" stroke-width="0" />
<rect x="369.30" y="2547.70" width="123.70" height="57.50" fill="url(#dots)" stroke="none" stroke-width="0" />
<rect x="365.60" y="2647.60" width="131.10" height="64.60" fill="#fff" stroke="#000" stroke-width="2.6" />
<text transform="translate(515.00 2490.40) scale(1 1.013)" font-family="'Liberation Sans', sans-serif" font-weight="700" font-size="68" text-anchor="start" >NO<tspan dy="16.3">2</tspan></text>
<text transform="translate(515.00 2593.90) scale(1 1.013)" font-family="'Liberation Sans', sans-serif" font-weight="700" font-size="68" text-anchor="start" >NH<tspan dy="15.2">4</tspan></text>
<text transform="translate(515.00 2700.00) scale(1 1.013)" font-family="'Liberation Sans', sans-serif" font-weight="700" font-size="68" text-anchor="start" >N<tspan dy="15.6">2</tspan></text>
</g>
</svg>
</body>
</html>
